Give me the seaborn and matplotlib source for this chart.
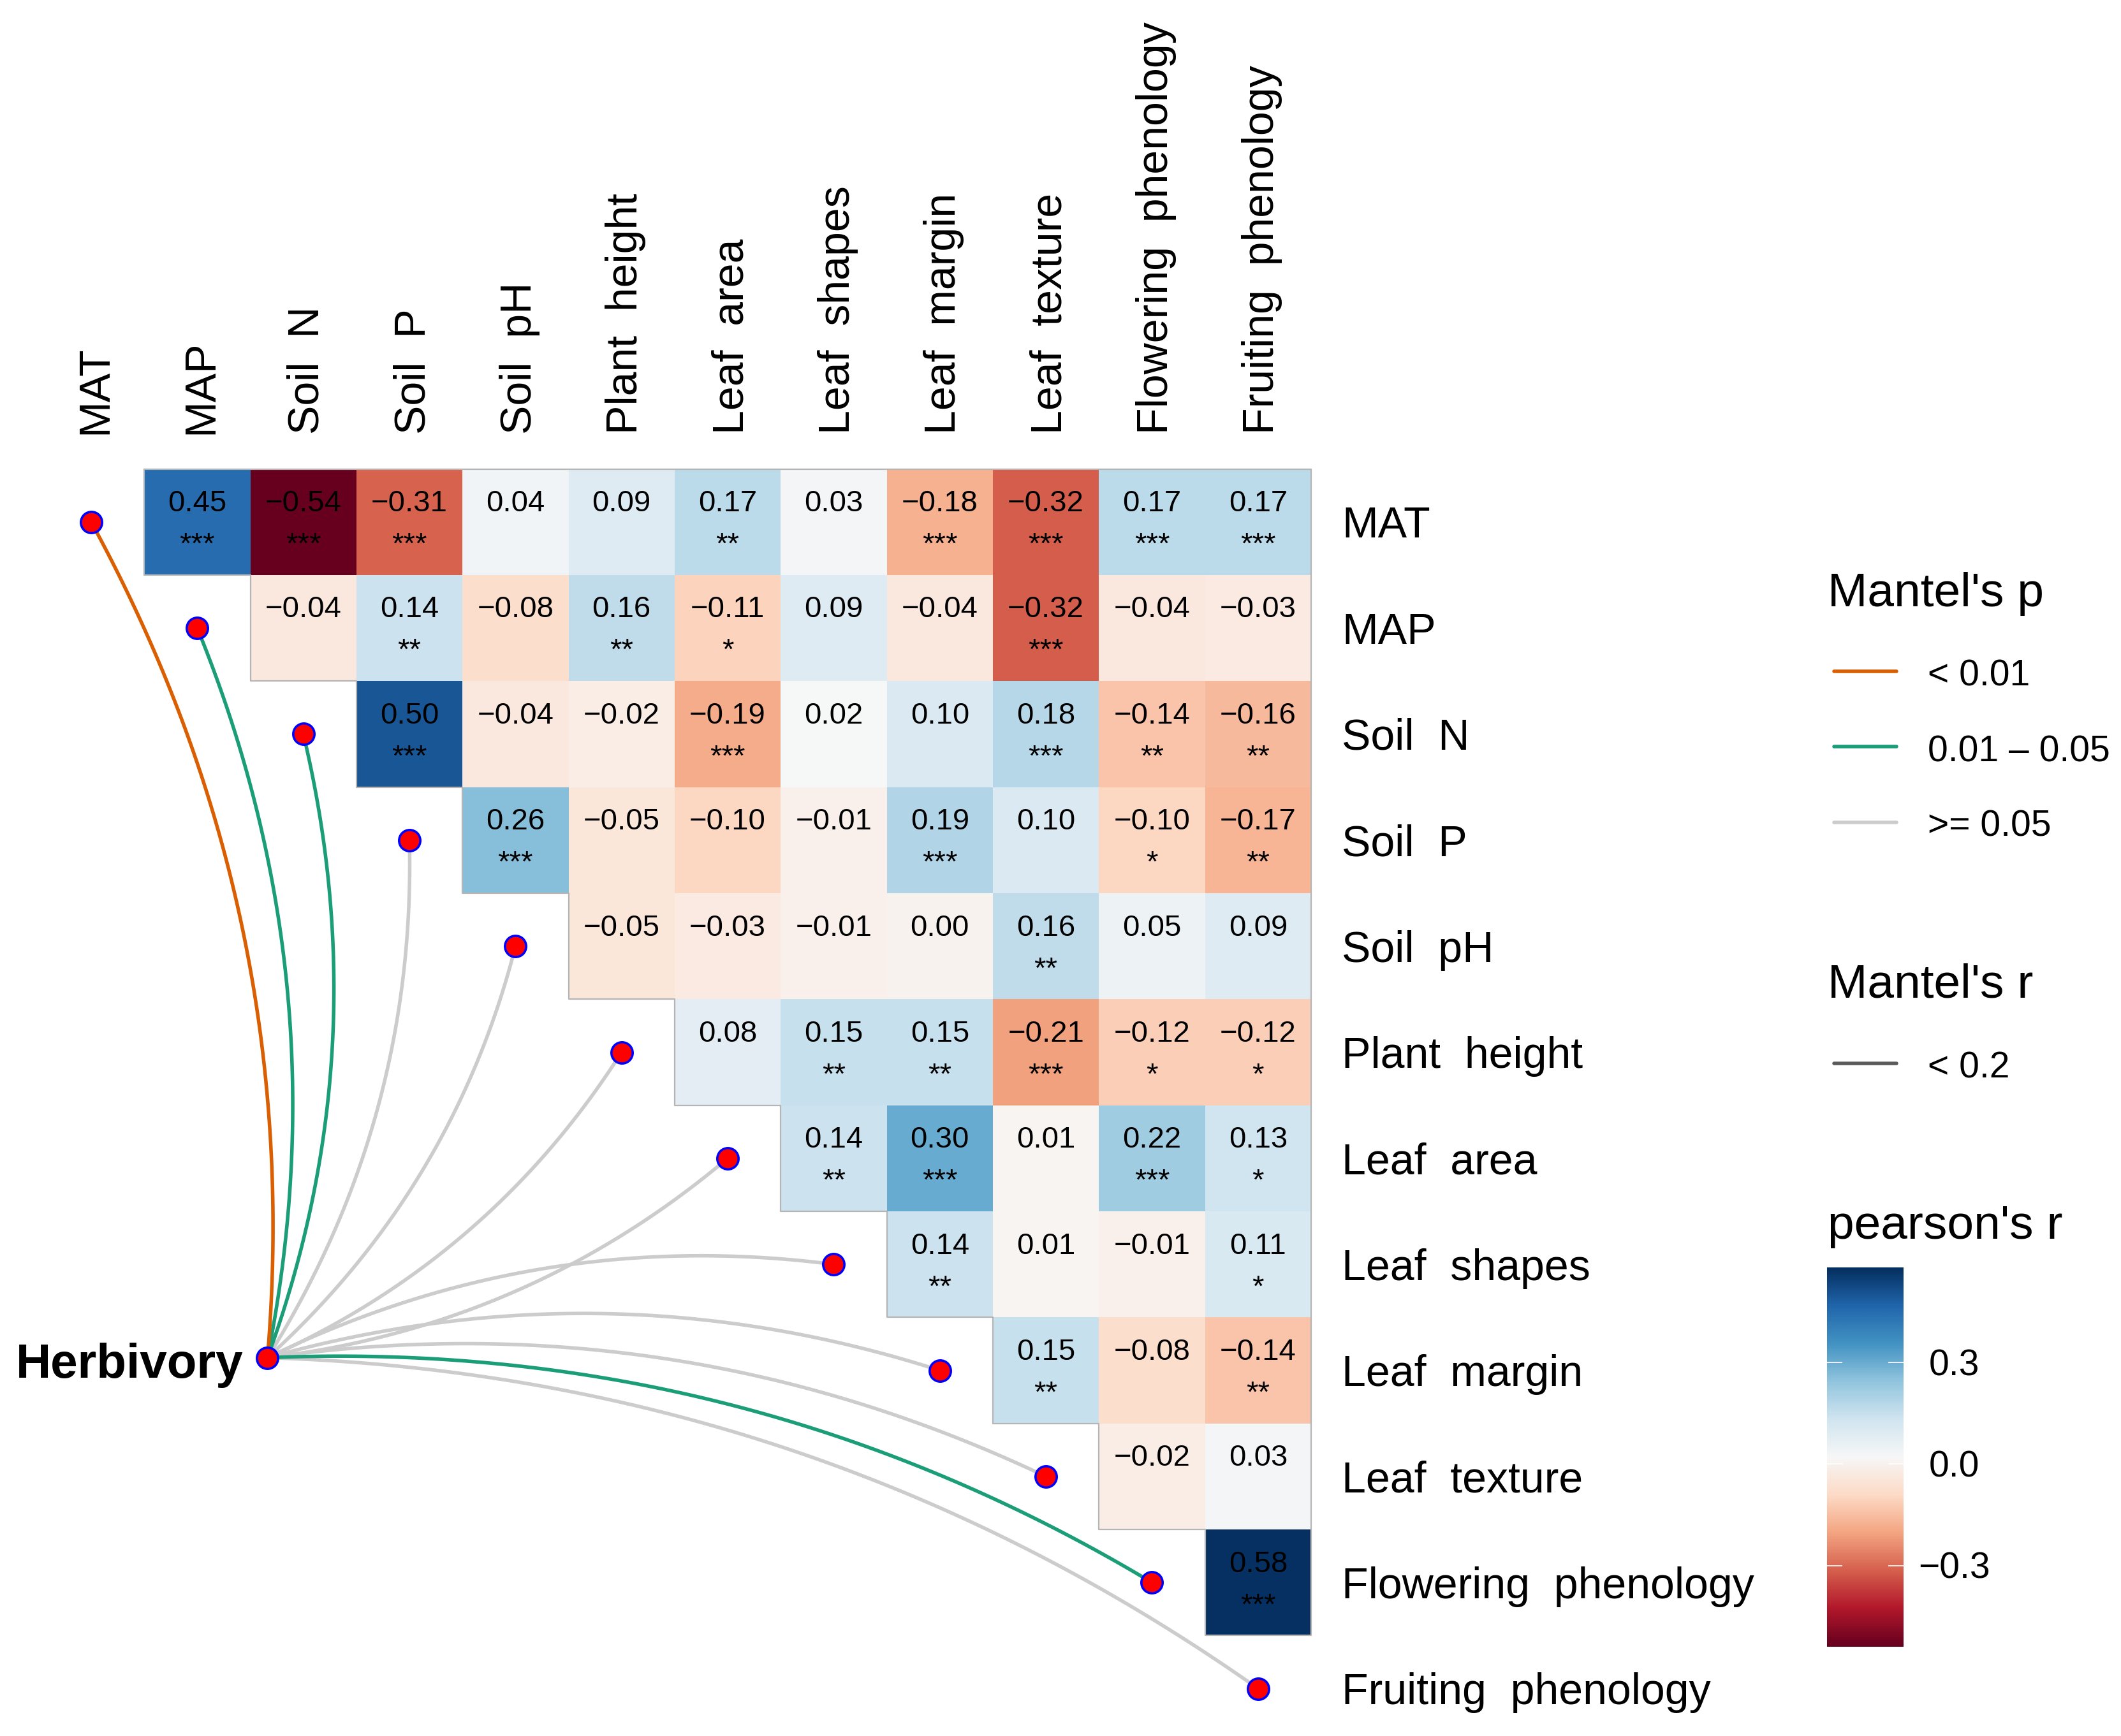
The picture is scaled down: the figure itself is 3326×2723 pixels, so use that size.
import numpy as np
import pandas as pd
import matplotlib
matplotlib.use("Agg")
import matplotlib.pyplot as plt
from matplotlib.lines import Line2D
import seaborn as sns

# ---- data ----
variables = ["MAT", "MAP", "Soil  N", "Soil  P", "Soil  pH", "Plant  height",
             "Leaf  area", "Leaf  shapes", "Leaf  margin", "Leaf  texture",
             "Flowering  phenology", "Fruiting  phenology"]

# pearson's r, upper triangle row by row (cells right of the diagonal)
r_rows = [
    [0.45, -0.54, -0.31, 0.04, 0.09, 0.17, 0.03, -0.18, -0.32, 0.17, 0.17],
    [-0.04, 0.14, -0.08, 0.16, -0.11, 0.09, -0.04, -0.32, -0.04, -0.03],
    [0.50, -0.04, -0.02, -0.19, 0.02, 0.10, 0.18, -0.14, -0.16],
    [0.26, -0.05, -0.10, -0.01, 0.19, 0.10, -0.10, -0.17],
    [-0.05, -0.03, -0.01, 0.00, 0.16, 0.05, 0.09],
    [0.08, 0.15, 0.15, -0.21, -0.12, -0.12],
    [0.14, 0.30, 0.01, 0.22, 0.13],
    [0.14, 0.01, -0.01, 0.11],
    [0.15, -0.08, -0.14],
    [-0.02, 0.03],
    [0.58],
]
star_rows = [
    ["***", "***", "***", "", "", "**", "", "***", "***", "***", "***"],
    ["", "**", "", "**", "*", "", "", "***", "", ""],
    ["***", "", "", "***", "", "", "***", "**", "**"],
    ["***", "", "", "", "***", "", "*", "**"],
    ["", "", "", "", "**", "", ""],
    ["", "**", "**", "***", "*", "*"],
    ["**", "***", "", "***", "*"],
    ["**", "", "", "*"],
    ["**", "", "**"],
    ["", ""],
    ["***"],
]

# Mantel test Herbivory vs each variable
mantel_p = ["< 0.01", "0.01 \u2013 0.05", "0.01 \u2013 0.05", ">= 0.05", ">= 0.05",
            ">= 0.05", ">= 0.05", ">= 0.05", ">= 0.05", ">= 0.05",
            "0.01 \u2013 0.05", ">= 0.05"]
mantel_r = ["< 0.2"] * 12
p_levels = ["< 0.01", "0.01 \u2013 0.05", ">= 0.05"]
r_levels = ["< 0.2"]
cbar_ticks = [-0.3, 0.0, 0.3]

p_colors = {"< 0.01": "#D95F02", "0.01 \u2013 0.05": "#1B9E77", ">= 0.05": "#CCCCCC"}
r_color = "#5A5A5A"

sns.set_style("white")
plt.rcParams["font.family"] = ["Liberation Sans", "DejaVu Sans"]
plt.rcParams["text.color"] = "black"

n = len(variables)
mat = pd.DataFrame(np.nan, index=variables, columns=variables)
for i, row in enumerate(r_rows):
    for k, v in enumerate(row):
        mat.iloc[i, i + 1 + k] = v
r_min, r_max = np.nanmin(mat.values), np.nanmax(mat.values)


def fmt(v):
    return f"{v:.2f}".replace("-", "\u2212")


W, H = 3326, 2723
fig = plt.figure(figsize=(W / 200, H / 200), dpi=200)

cell = 166.35
ax = fig.add_axes([59.8 / W, 1 - (735.6 + n * cell) / H, n * cell / W, n * cell / H])
sns.heatmap(mat, mask=mat.isna(), cmap="RdBu", vmin=r_min, vmax=r_max, cbar=False,
            ax=ax, xticklabels=False, yticklabels=False, linewidths=0)
ax.set_xticks([])
ax.set_yticks([])
for s in ax.spines.values():
    s.set_visible(False)

# outline of the triangle
ox, oy = [1, n, n], [0, 0, n - 1]
for i in range(n - 1, 0, -1):
    ox += [i, i]
    oy += [i, i - 1]
ax.plot(ox, oy, color="#B5B5B5", lw=0.8, clip_on=False, zorder=3)

# cell labels
for i, (row, stars) in enumerate(zip(r_rows, star_rows)):
    for k, (v, st) in enumerate(zip(row, stars)):
        j = i + 1 + k
        ax.text(j + 0.5, i + 0.40, fmt(v), ha="center", va="baseline", fontsize=17)
        if st:
            ax.text(j + 0.5, i + 0.795, st, ha="center", va="baseline", fontsize=17)

# axis labels
for i, name in enumerate(variables):
    ax.text(12.29, i + 0.647, name, ha="left", va="baseline", fontsize=24.5, clip_on=False)
    ax.text(i + 0.646, -0.33, name, rotation=90, rotation_mode="anchor",
            ha="left", va="baseline", fontsize=24.5, clip_on=False)

# links from Herbivory
hx, hy = 2.162, 8.38


def curve(p0, p2, side, bend=0.15, m=100):
    p0, p2 = np.asarray(p0, float), np.asarray(p2, float)
    d = p2 - p0
    perp = np.array([-d[1], d[0]])
    c = (p0 + p2) / 2 + side * bend * perp
    t = np.linspace(0, 1, m)[:, None]
    return (1 - t) ** 2 * p0 + 2 * (1 - t) * t * c + t ** 2 * p2


order = sorted(range(n), key=lambda i: p_levels.index(mantel_p[i]), reverse=True)
for i in order:
    side = 1 if i < 7 else -1
    pts = curve((hx, hy), (i + 0.5, i + 0.5), side)
    ax.plot(pts[:, 0], pts[:, 1], color=p_colors[mantel_p[i]], lw=2.0,
            solid_capstyle="round", clip_on=False, zorder=4)

ax.plot(np.arange(n) + 0.5, np.arange(n) + 0.5, ls="none", marker="o", ms=12,
        mfc="#FF0000", mec="#0000FF", mew=1.3, clip_on=False, zorder=6)
ax.plot([hx], [hy], ls="none", marker="o", ms=12, mfc="#FF0000", mec="#0000FF",
        mew=1.3, clip_on=False, zorder=6)
ax.text(1.935, 8.571, "Herbivory", ha="right", va="baseline", fontsize=27.5,
        fontweight="bold", clip_on=False)


# ---- legends ----
def P(x, y):
    return x / W, 1 - y / H


fig.text(*P(2866, 951), "Mantel's p", fontsize=27, ha="left", va="baseline")
for k, (lev, ly, ty) in enumerate(zip(p_levels, [1053, 1171, 1290], [1076, 1194.5, 1312])):
    x0, y0 = P(2876, ly)
    x1, _ = P(2974, ly)
    fig.add_artist(Line2D([x0, x1], [y0, y0], color=p_colors[lev], lw=2.0,
                          transform=fig.transFigure))
    fig.text(*P(3023, ty), lev, fontsize=20.5, ha="left", va="baseline")

fig.text(*P(2866, 1564), "Mantel's r", fontsize=27, ha="left", va="baseline")
for lev in r_levels:
    x0, y0 = P(2876, 1667.6)
    x1, _ = P(2974, 1667.6)
    fig.add_artist(Line2D([x0, x1], [y0, y0], color=r_color, lw=2.0,
                          transform=fig.transFigure))
    fig.text(*P(3023, 1690.6), lev, fontsize=20.5, ha="left", va="baseline")

fig.text(*P(2866, 1943), "pearson's r", fontsize=27, ha="left", va="baseline")
cax = fig.add_axes([2865 / W, 1 - 2583 / H, 120 / W, 595 / H])
grad = np.linspace(r_min, r_max, 400)[:, None]
cax.imshow(grad, aspect="auto", cmap="RdBu", vmin=r_min, vmax=r_max, origin="lower",
           extent=[0, 1, r_min, r_max], interpolation="bilinear")
cax.set_xlim(0, 1)
cax.set_ylim(r_min, r_max)
cax.set_xticks([])
cax.set_yticks(cbar_ticks)
cax.tick_params(axis="y", direction="in", length=8.5, width=0.6, color="white",
                left=True, right=True, labelleft=False, labelright=False)
for s in cax.spines.values():
    s.set_visible(False)
for tv in cbar_ticks:
    lab = f"{tv:.1f}".replace("-", "\u2212")
    cax.annotate(lab, (1.66, tv), xycoords=cax.get_yaxis_transform(),
                 xytext=(0, -7.3), textcoords="offset points",
                 ha="center", va="baseline", fontsize=20.5, annotation_clip=False)

fig.savefig("out.png", dpi=200)
